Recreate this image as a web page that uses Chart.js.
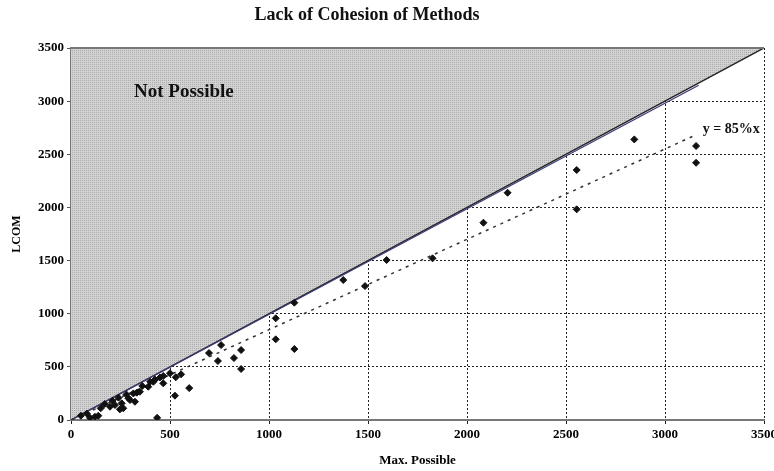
<!DOCTYPE html>
<html>
<head>
<meta charset="utf-8">
<script src="https://cdn.jsdelivr.net/npm/chart.js@4/dist/chart.umd.min.js"></script>
<style>
  html, body { margin: 0; padding: 0; background: #fff; }
  #wrap { width: 774px; height: 471px; }
</style>
</head>
<body>
<div id="wrap"><canvas id="lcomChart" width="774" height="471"></canvas></div>
<script>
// classes: max possible LCOM vs measured LCOM
const maxPossible = [50, 80, 96, 121, 138, 150, 170, 197, 210, 222, 240, 247, 256, 264, 280, 290,
  298, 315, 323, 332, 348, 360, 390, 400, 416, 424, 435, 450, 466, 466, 500, 525, 529, 556, 597,
  697, 742, 758, 823, 859, 859, 1034, 1034, 1128, 1128, 1375, 1485, 1594, 1826, 2083, 2205,
  2554, 2554, 2845, 3157, 3157];
const lcom = [40, 60, 20, 30, 40, 110, 150, 125, 180, 141, 210, 100, 157, 110, 240, 204,
  188, 250, 172, 257, 266, 320, 313, 360, 360, 380, 20, 400, 345, 414, 440, 229, 402, 430, 300,
  630, 555, 705, 583, 658, 480, 957, 759, 668, 1104, 1317, 1260, 1505, 1521, 1856, 2138,
  1982, 2352, 2640, 2578, 2420];

// upper limit (LCOM can't exceed max possible)
const limitX = [0, 3500];
const limitY = [0, 3500];
// trend close to the limit
const trendX = [0, 3170];
const trendY = [0, 3150];
// y = 85%x reference line
const refX = [0, 3160];
const refY = [0, 2686];

const xTicks = [0, 500, 1000, 1500, 2000, 2500, 3000, 3500];
const yTicks = [0, 500, 1000, 1500, 2000, 2500, 3000, 3500];

const toPoints = (xs, ys) => xs.map((x, i) => ({ x: x, y: ys[i] }));

const serif = "'Liberation Serif', 'DejaVu Serif', serif";

// stippled gray for the "not possible" area
function makeStipple() {
  const c = document.createElement("canvas");
  c.width = 2; c.height = 2;
  const g = c.getContext("2d");
  g.fillStyle = "#d2d2d2";
  g.fillRect(0, 0, 2, 2);
  g.fillStyle = "#acacac";
  g.fillRect(0, 0, 1, 1);
  return g.createPattern(c, "repeat");
}

const extras = {
  id: "extras",
  beforeDraw(chart) {
    const ctx = chart.ctx;
    ctx.save();
    ctx.fillStyle = "#fff";
    ctx.fillRect(0, 0, chart.width, chart.height);
    ctx.restore();
  },
  afterDatasetsDraw(chart) {
    const ctx = chart.ctx;
    const xs = chart.scales.x, ys = chart.scales.y;
    const area = chart.chartArea;
    ctx.save();
    // top edge
    ctx.strokeStyle = "#777";
    ctx.lineWidth = 2;
    ctx.beginPath();
    ctx.moveTo(area.left, area.top);
    ctx.lineTo(area.right, area.top);
    ctx.stroke();

    ctx.fillStyle = "#111";
    ctx.textBaseline = "middle";
    ctx.textAlign = "center";
    ctx.font = "bold 18px " + serif;
    ctx.fillText("Lack of Cohesion of Methods", 367, 15);

    ctx.font = "bold 19px " + serif;
    ctx.fillText("Not Possible", xs.getPixelForValue(570), ys.getPixelForValue(3085));

    ctx.font = "bold 14px " + serif;
    ctx.fillText("y = 85%x", xs.getPixelForValue(3335), ys.getPixelForValue(2735));
    ctx.restore();
  }
};

const ctx = document.getElementById("lcomChart");
new Chart(ctx, {
  type: "scatter",
  data: {
    datasets: [
      {
        label: "Limit",
        type: "line",
        data: toPoints(limitX, limitY),
        borderColor: "#222",
        borderWidth: 1.5,
        pointRadius: 0,
        fill: "end",
        backgroundColor: makeStipple(),
        order: 4
      },
      {
        label: "Trend",
        type: "line",
        data: toPoints(trendX, trendY),
        borderColor: "#3c3c7a",
        borderWidth: 1.2,
        pointRadius: 0,
        fill: false,
        order: 3
      },
      {
        label: "y = 85%x",
        type: "line",
        data: toPoints(refX, refY),
        borderColor: "#333",
        borderWidth: 1.5,
        borderDash: [3, 5],
        pointRadius: 0,
        fill: false,
        order: 2
      },
      {
        label: "Classes",
        data: toPoints(maxPossible, lcom),
        pointStyle: "rectRot",
        pointRadius: 3.5,
        backgroundColor: "#111",
        borderColor: "#111",
        borderWidth: 1,
        order: 1
      }
    ]
  },
  options: {
    responsive: false,
    animation: false,
    layout: { padding: { top: 48, right: 10, bottom: 0, left: 0 } },
    plugins: {
      legend: { display: false },
      tooltip: { enabled: false },
      title: { display: false }
    },
    scales: {
      x: {
        type: "linear",
        min: 0,
        max: 3500,
        afterBuildTicks: (scale) => { scale.ticks = xTicks.map((v) => ({ value: v })); },
        afterFit: (scale) => {
          scale.height = 51;
          scale.paddingLeft = 0;
          scale.paddingRight = 0;
        },
        ticks: {
          color: "#000",
          font: { family: serif, size: 13, weight: "bold" },
          padding: 3,
          maxRotation: 0,
          callback: (v) => String(v)
        },
        grid: {
          color: "#222",
          lineWidth: 1,
          tickLength: 4
        },
        border: { color: "#777", width: 2, dash: [2, 2] },
        title: {
          display: true,
          text: "Max. Possible",
          color: "#000",
          font: { family: serif, size: 13, weight: "bold" },
          padding: { top: 0, bottom: 3 }
        }
      },
      y: {
        type: "linear",
        min: 0,
        max: 3500,
        afterBuildTicks: (scale) => { scale.ticks = yTicks.map((v) => ({ value: v })); },
        afterFit: (scale) => {
          scale.width = 71;
          scale.paddingTop = 0;
          scale.paddingBottom = 0;
        },
        ticks: {
          color: "#000",
          font: { family: serif, size: 13, weight: "bold" },
          padding: 3,
          callback: (v) => String(v)
        },
        grid: {
          color: "#222",
          lineWidth: 1,
          tickLength: 4,
          tickColor: "#555",
          tickBorderDash: []
        },
        border: { color: "#777", width: 2, dash: [2, 2] },
        title: {
          display: true,
          text: "LCOM",
          color: "#000",
          font: { family: serif, size: 12, weight: "bold" },
          padding: { top: 10, bottom: 0 }
        }
      }
    }
  },
  plugins: [extras]
});
</script>
</body>
</html>
